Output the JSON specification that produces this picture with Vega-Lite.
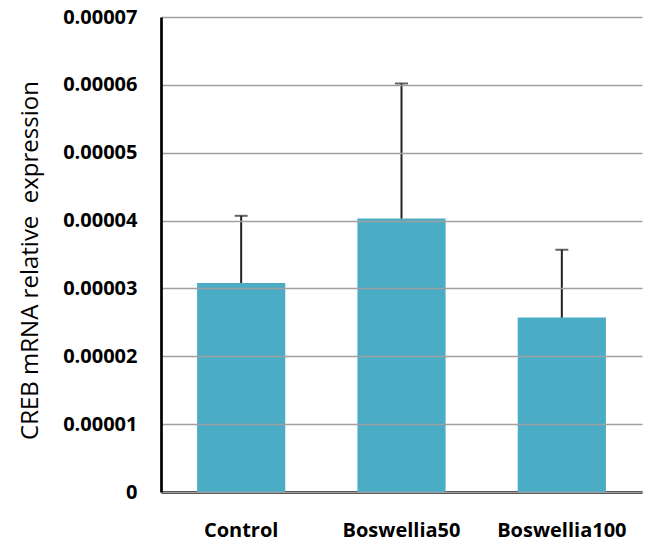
{
  "$schema": "https://vega.github.io/schema/vega-lite/v6.json",
  "width": 481,
  "height": 475,
  "autosize": {"type": "none"},
  "padding": {"left": 161, "top": 17, "right": 7, "bottom": 52},
  "background": "white",
  "config": {
    "view": {"stroke": null},
    "axis": {"labelFont": "Open Sans", "titleFont": "Open Sans"}
  },
  "data": {
    "values": [
      {"group": "Control", "value": 0.0000308, "upper": 0.0000407},
      {"group": "Boswellia50", "value": 0.0000403, "upper": 0.0000602},
      {"group": "Boswellia100", "value": 0.0000257, "upper": 0.0000357}
    ]
  },
  "encoding": {
    "x": {
      "field": "group",
      "type": "nominal",
      "sort": null,
      "scale": {"paddingInner": 0.45, "paddingOuter": 0.225},
      "axis": {
        "title": null,
        "labelAngle": 0,
        "labelFontWeight": "bold",
        "labelFontSize": 20,
        "labelColor": "black",
        "labelPadding": 28,
        "ticks": false,
        "domainColor": "black",
        "domainWidth": 2.5,
        "grid": false
      }
    }
  },
  "layer": [
    {
      "mark": {"type": "bar", "color": "#4BACC6"},
      "encoding": {
        "y": {
          "field": "value",
          "type": "quantitative",
          "scale": {"domain": [0, 0.00007], "nice": false},
          "axis": {
            "title": "CREB mRNA relative\u00a0 expression",
            "titleFontSize": 24,
            "titleFontWeight": "normal",
            "titleColor": "black",
            "titleX": -131,
            "titleY": 243,
            "titleAlign": "center",
            "titleBaseline": "middle",
            "values": [0, 0.00001, 0.00002, 0.00003, 0.00004, 0.00005, 0.00006, 0.00007],
            "labelExpr": "datum.value == 0 ? '0' : format(datum.value, '.5f')",
            "labelFontWeight": "bold",
            "labelFontSize": 20,
            "labelColor": "black",
            "labelPadding": 24,
            "ticks": false,
            "domainColor": "black",
            "domainWidth": 2.7,
            "gridColor": "#a0a0a0",
            "gridWidth": 1.5,
            "zindex": 1
          }
        }
      }
    },
    {
      "mark": {"type": "rule", "color": "#222222", "strokeWidth": 2},
      "encoding": {
        "y": {"field": "value", "type": "quantitative"},
        "y2": {"field": "upper"}
      }
    },
    {
      "mark": {"type": "tick", "color": "#222222", "size": 13, "thickness": 2},
      "encoding": {
        "y": {"field": "upper", "type": "quantitative"}
      }
    }
  ]
}
